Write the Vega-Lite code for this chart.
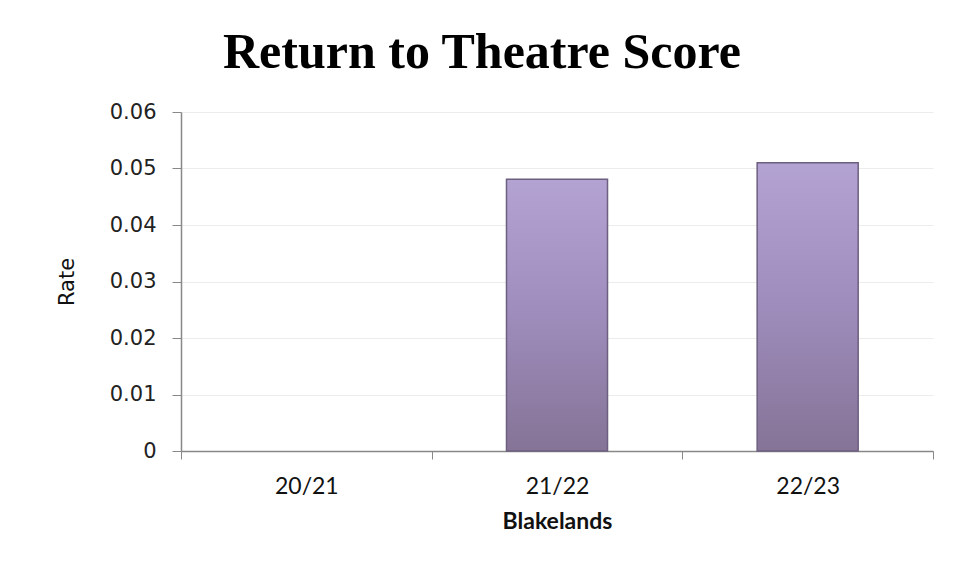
{
  "$schema": "https://vega.github.io/schema/vega-lite/v6.json",
  "autosize": {"type": "none"},
  "width": 752,
  "height": 339,
  "padding": {"left": 181, "top": 112, "right": 32, "bottom": 125},
  "background": "white",
  "title": {
    "text": "Return to Theatre Score",
    "font": "Liberation Serif",
    "fontSize": 50,
    "fontWeight": "bold",
    "color": "#000000",
    "anchor": "middle",
    "dx": -75,
    "offset": 23
  },
  "data": {
    "values": [
      {"year": "20/21", "rate": 0},
      {"year": "21/22", "rate": 0.0481},
      {"year": "22/23", "rate": 0.0510}
    ]
  },
  "mark": {
    "type": "bar",
    "width": {"band": 0.403},
    "color": {
      "gradient": "linear",
      "x1": 0, "y1": 0, "x2": 0, "y2": 1,
      "stops": [
        {"offset": 0, "color": "#b3a3d3"},
        {"offset": 0.5, "color": "#9e8cbc"},
        {"offset": 1, "color": "#857496"}
      ]
    },
    "stroke": "#6d5f80",
    "strokeWidth": 1.5
  },
  "encoding": {
    "x": {
      "field": "year",
      "type": "nominal",
      "sort": null,
      "scale": {"paddingInner": 0, "paddingOuter": 0},
      "axis": {
        "title": "Blakelands",
        "titleFont": "Lato",
        "titleFontSize": 23,
        "titleFontWeight": "bold",
        "titleColor": "#111111",
        "titlePadding": 12,
        "labelFont": "Lato",
        "labelFontSize": 23,
        "labelColor": "#111111",
        "labelAngle": 0,
        "labelPadding": 16,
        "tickBand": "extent",
        "tickSize": 8,
        "tickColor": "#888888",
        "domainColor": "#888888",
        "domainWidth": 1.5
      }
    },
    "y": {
      "field": "rate",
      "type": "quantitative",
      "scale": {"domain": [0, 0.06], "nice": false},
      "axis": {
        "title": "Rate",
        "titleFont": "DejaVu Sans",
        "titleFontSize": 21,
        "titleFontWeight": "normal",
        "titleColor": "#111111",
        "titlePadding": 32,
        "values": [0, 0.01, 0.02, 0.03, 0.04, 0.05, 0.06],
        "labelExpr": "datum.value == 0 ? '0' : format(datum.value, '.2f')",
        "labelFont": "DejaVu Sans",
        "labelFontSize": 21,
        "labelColor": "#222222",
        "labelPadding": 16,
        "tickSize": 9,
        "tickColor": "#888888",
        "domainColor": "#888888",
        "domainWidth": 1.5,
        "gridColor": "#ececec",
        "gridWidth": 1
      }
    },
    "strokeOpacity": {
      "condition": {"test": "datum.rate == 0", "value": 0},
      "value": 1
    }
  },
  "config": {
    "view": {"stroke": null},
    "axisX": {"grid": false}
  }
}
